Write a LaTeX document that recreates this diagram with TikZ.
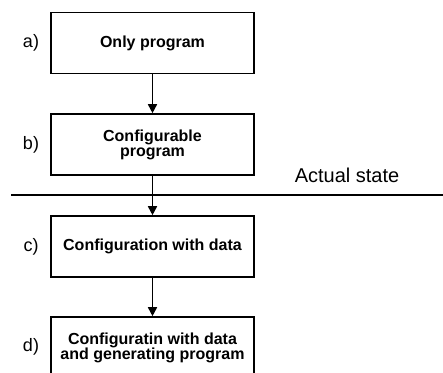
\documentclass[tikz,border=0pt]{standalone}
\usepackage{fontspec}
\setmainfont{Liberation Sans}
\usetikzlibrary{arrows.meta}
\begin{document}
\begin{tikzpicture}[x=1pt,y=-1pt,
  stagebox/.style={draw, line width=1.6pt, minimum width=203pt, minimum height=61pt,
    inner sep=0pt, align=center, font=\fontsize{16pt}{15pt}\selectfont\bfseries},
  stagelabel/.style={font=\fontsize{18pt}{20pt}\selectfont},
  flow/.style={line width=1.6pt, -{Triangle[length=9pt,width=9pt]}}]
  \useasboundingbox (0,0) rectangle (443,372);
  % the four stages
  \node[stagebox] (a) at (152.5,43) {Only program};
  \node[stagebox] (b) at (152.5,144.5) {Configurable\\program};
  \node[stagebox] (c) at (152.5,246.5) {Configuration with data};
  \node[stagebox] (d) at (152.5,347.5) {Configuratin with data\\and generating program};
  % stage letters
  \node[stagelabel] (la) at (31,43) {a)};
  \node[stagelabel] (lb) at (31,145) {b)};
  \node[stagelabel] (lc) at (31,247) {c)};
  \node[stagelabel] (ld) at (31,347) {d)};
  % boundary of the actual state
  \coordinate (sepL) at (11,195);
  \coordinate (sepR) at (443,195);
  \draw[line width=1.6pt] (sepL) -- (sepR);
  \node[font=\fontsize{20pt}{22pt}\selectfont, anchor=base] (st) at (347,182) {Actual state};
  % transitions
  \draw[flow] (a) -- (b);
  \draw[flow] (b) -- (c);
  \draw[flow] (c) -- (d);
\end{tikzpicture}
\end{document}
